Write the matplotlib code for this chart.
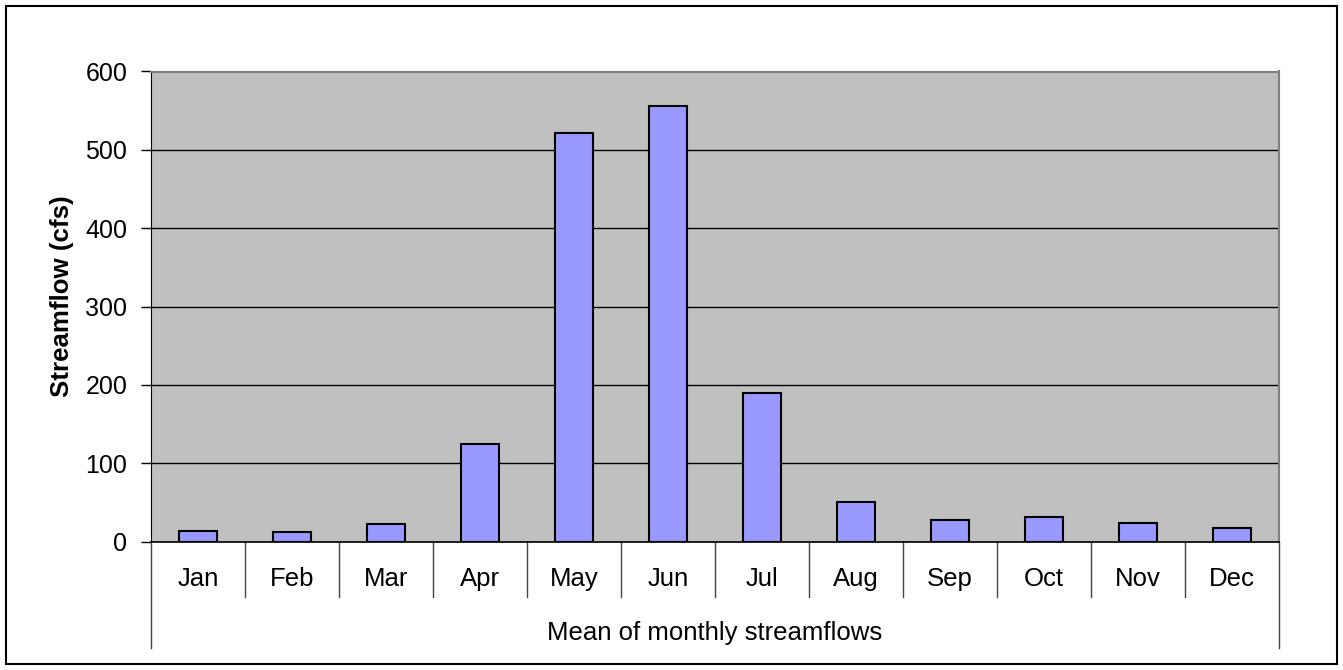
import matplotlib.pyplot as plt
from matplotlib.patches import Rectangle

# mean monthly streamflow (cfs)
meses = ['Jan', 'Feb', 'Mar', 'Apr', 'May', 'Jun', 'Jul', 'Aug', 'Sep', 'Oct', 'Nov', 'Dec']
vazao = [14, 12.5, 22, 125, 522, 556, 190, 50, 27, 31, 23, 17]
yticks = [0, 100, 200, 300, 400, 500, 600]

plt.rcParams['font.family'] = ['Liberation Sans', 'DejaVu Sans']

W, H = 1343, 670
fig = plt.figure(figsize=(W / 100, H / 100), dpi=100)
ax = fig.add_axes([151 / W, 1 - 541.5 / H, 1128 / W, 470 / H])

x = list(range(len(meses)))
ax.bar(x, vazao, width=0.4, color='#9999FF', edgecolor='black', linewidth=1.5, zorder=3)

ax.set_xlim(-0.5, len(meses) - 0.5)
ax.set_ylim(0, 600)
ax.set_facecolor('#C0C0C0')
ax.set_yticks(yticks)
ax.yaxis.grid(True, color='black', linewidth=1)
ax.set_axisbelow(True)
ax.tick_params(axis='y', labelsize=18, length=7, width=1, direction='out', pad=10)
ax.set_xticks([])
ax.set_ylabel('Streamflow (cfs)', fontsize=18.6, fontweight='bold')
ax.yaxis.set_label_coords(-0.068, 0.521)

for lado in ['top', 'right']:
    ax.spines[lado].set_color('#808080')
    ax.spines[lado].set_linewidth(1.5)
ax.spines['left'].set_color('black')
ax.spines['bottom'].set_color('black')
ax.spines['bottom'].set_linewidth(1.2)

# multi-level category axis
tr = ax.get_xaxis_transform()
for i, m in enumerate(meses):
    ax.text(i, -0.08, m, transform=tr, ha='center', va='center', fontsize=18.5)
for i in range(1, len(meses)):
    ax.plot([i - 0.5, i - 0.5], [0, -0.118], transform=tr, color='#444444', lw=1, clip_on=False)
for xb in [-0.5, len(meses) - 0.5]:
    ax.plot([xb, xb], [0, -0.227], transform=tr, color='#444444', lw=1, clip_on=False)
ax.text((len(meses) - 1) / 2, -0.195, 'Mean of monthly streamflows', transform=tr,
        ha='center', va='center', fontsize=18.5)

# moldura da figura
fig.patches.append(Rectangle((6 / W, 6 / H), 1331 / W, 658 / H, transform=fig.transFigure,
                             fill=False, edgecolor='black', linewidth=1.5))

fig.savefig('out.png', dpi=100)
